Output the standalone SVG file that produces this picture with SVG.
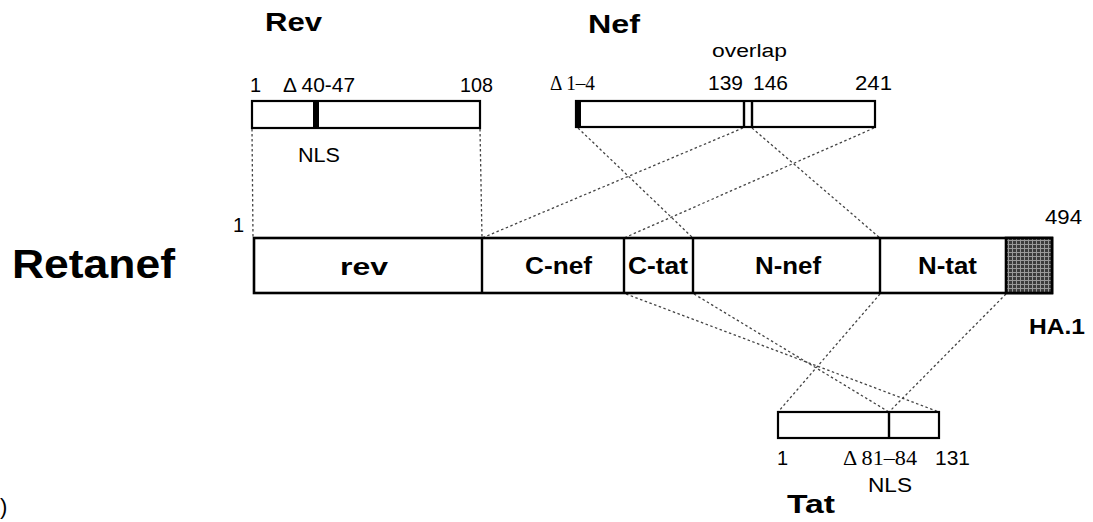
<svg xmlns="http://www.w3.org/2000/svg" width="1093" height="522" viewBox="0 0 1093 522">
<style>
.box{fill:#fff;stroke:#000;stroke-width:2.2}
.bar{fill:#fff;stroke:#000;stroke-width:2.6}
.div{stroke:#000;stroke-width:2.4}
.con{stroke:#444;stroke-width:1.3;stroke-dasharray:2.5 2.5;fill:none}
.t{font-family:"Liberation Sans",Arial,sans-serif;fill:#000}
.b{font-weight:bold}
.s{font-family:"Liberation Serif","Times New Roman",serif;fill:#000}
</style>
<defs>
<pattern id="hatch" width="4" height="4" patternUnits="userSpaceOnUse">
<rect width="4" height="4" fill="#3c3c3c"/>
<rect width="4" height="1" fill="#9a9a9a"/>
<rect width="1" height="4" fill="#9a9a9a"/>
</pattern>
</defs>

<g id="connectors">
<line class="con" x1="252" y1="129" x2="253" y2="238"/>
<line class="con" x1="480" y1="129" x2="482" y2="238"/>
<line class="con" x1="578" y1="128" x2="693" y2="238"/>
<line class="con" x1="743" y1="128" x2="482" y2="238"/>
<line class="con" x1="752" y1="128" x2="880" y2="238"/>
<line class="con" x1="874" y1="128" x2="624" y2="238"/>
<line class="con" x1="626" y1="294" x2="939" y2="412"/>
<line class="con" x1="694" y1="294" x2="889" y2="412"/>
<line class="con" x1="880" y1="294" x2="778" y2="412"/>
<line class="con" x1="1006" y1="294" x2="889" y2="412"/>
</g>

<g id="rev">
<text class="t b" x="265" y="31" font-size="25" textLength="57" lengthAdjust="spacingAndGlyphs">Rev</text>
<text class="t" x="250" y="92" font-size="20">1</text>
<text class="t" x="283" y="92" font-size="20" textLength="72" lengthAdjust="spacingAndGlyphs">Δ 40-47</text>
<text class="t" x="460" y="92" font-size="20" textLength="33" lengthAdjust="spacingAndGlyphs">108</text>
<rect class="box" x="252" y="101" width="228" height="27"/>
<rect x="313" y="101" width="6" height="27" fill="#000"/>
<text class="t" x="298" y="162" font-size="20" textLength="42" lengthAdjust="spacingAndGlyphs">NLS</text>
</g>

<g id="nef">
<text class="t b" x="588" y="33" font-size="25" textLength="52" lengthAdjust="spacingAndGlyphs">Nef</text>
<text class="t" x="712" y="57" font-size="18" textLength="75" lengthAdjust="spacingAndGlyphs">overlap</text>
<text class="s" x="550" y="90" font-size="20" textLength="45" lengthAdjust="spacingAndGlyphs">Δ 1–4</text>
<text class="t" x="708" y="90" font-size="20" textLength="35" lengthAdjust="spacingAndGlyphs">139</text>
<text class="t" x="753" y="90" font-size="20" textLength="35" lengthAdjust="spacingAndGlyphs">146</text>
<text class="t" x="855" y="90" font-size="20" textLength="37" lengthAdjust="spacingAndGlyphs">241</text>
<rect class="box" x="576" y="101" width="299" height="26"/>
<rect x="576" y="101" width="5" height="26" fill="#000"/>
<line class="div" x1="744" y1="101" x2="744" y2="127" stroke-width="2"/>
<line class="div" x1="752" y1="101" x2="752" y2="127" stroke-width="2"/>
</g>

<g id="retanef">
<text class="t b" x="12" y="278" font-size="40" textLength="163" lengthAdjust="spacingAndGlyphs">Retanef</text>
<text class="t" x="233" y="232" font-size="20">1</text>
<text class="t" x="1045" y="224" font-size="20" textLength="37" lengthAdjust="spacingAndGlyphs">494</text>
<rect class="bar" x="254" y="238" width="798" height="55"/>
<rect x="1006" y="238" width="46" height="55" fill="url(#hatch)" stroke="#000" stroke-width="2.6"/>
<line class="div" x1="482" y1="238" x2="482" y2="293"/>
<line class="div" x1="624" y1="238" x2="624" y2="293"/>
<line class="div" x1="693" y1="238" x2="693" y2="293"/>
<line class="div" x1="880" y1="238" x2="880" y2="293"/>
<text class="t b" x="340" y="275" font-size="24" textLength="48" lengthAdjust="spacingAndGlyphs">rev</text>
<text class="t b" x="525" y="274" font-size="24" textLength="67" lengthAdjust="spacingAndGlyphs">C-nef</text>
<text class="t b" x="628" y="274" font-size="24" textLength="60" lengthAdjust="spacingAndGlyphs">C-tat</text>
<text class="t b" x="755" y="274" font-size="24" textLength="66" lengthAdjust="spacingAndGlyphs">N-nef</text>
<text class="t b" x="918" y="274" font-size="24" textLength="59" lengthAdjust="spacingAndGlyphs">N-tat</text>
<text class="t b" x="1029" y="334" font-size="22" textLength="56" lengthAdjust="spacingAndGlyphs">HA.1</text>
</g>

<g id="tat">
<rect class="box" x="778" y="412" width="161" height="26"/>
<line class="div" x1="889" y1="412" x2="889" y2="438" stroke-width="2.2"/>
<text class="t" x="777" y="465" font-size="20">1</text>
<text class="s" x="843" y="465" font-size="20" textLength="74" lengthAdjust="spacingAndGlyphs">Δ 81–84</text>
<text class="t" x="935" y="465" font-size="20" textLength="35" lengthAdjust="spacingAndGlyphs">131</text>
<text class="t" x="868" y="492" font-size="20" textLength="44" lengthAdjust="spacingAndGlyphs">NLS</text>
<text class="t b" x="787" y="513" font-size="26" textLength="48" lengthAdjust="spacingAndGlyphs">Tat</text>
</g>

<text class="t" x="0" y="514" font-size="22">)</text>
</svg>
